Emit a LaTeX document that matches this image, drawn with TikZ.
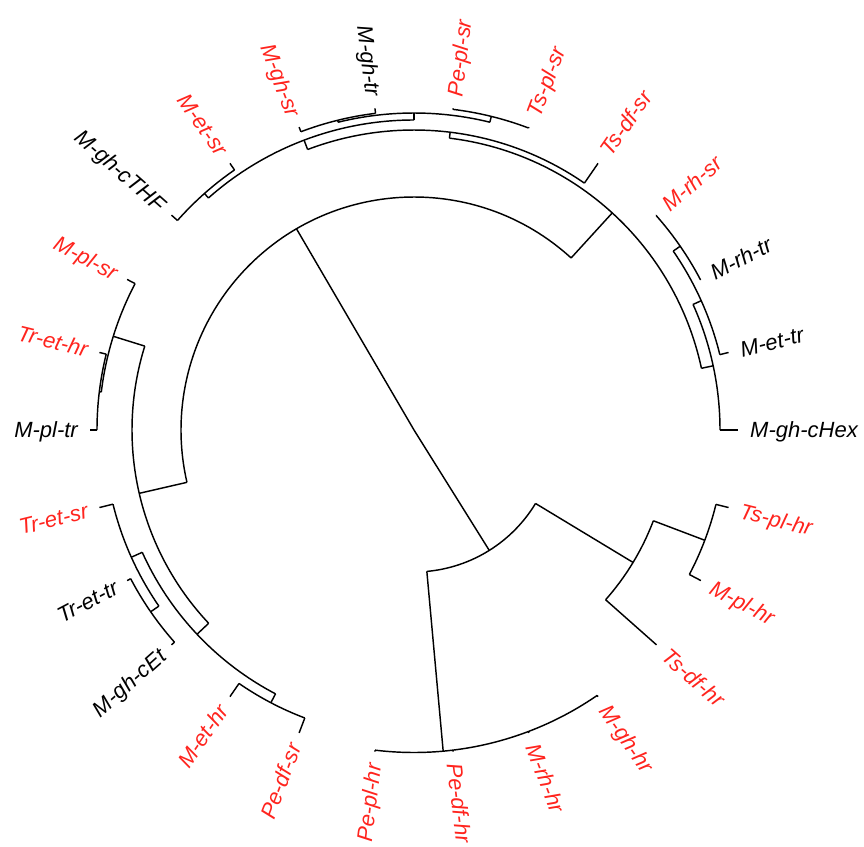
\documentclass[tikz,border=0pt]{standalone}
\usepackage{fontspec}
\setmainfont{Liberation Sans}
\definecolor{lblred}{RGB}{255,36,30}
\begin{document}
\begin{tikzpicture}[
  br/.style={line width=1.45pt, line cap=butt},
  lbl/.style={font=\fontsize{22}{26}\selectfont\itshape, inner sep=0pt, text height=15.75pt, text depth=0pt},
]
\useasboundingbox (-414pt,-416pt) rectangle (450pt,430pt);
\coordinate (root) at (0,0);
% internal nodes: name / angle / radius / parent radius
\foreach \n/\a/\r/\p in {
  L/120.288/233/0, D/302.019/142/0,
  A/47.596/294/233, B/192.981/282/233,
  N1/12.115/306/294, A2/83.077/300/294,
  R1/24.231/315/306, R2/34.615/323.5/315,
  G2/110.769/310/300, G1/90/317/310, GG/103.846/319/317, TP/76.154/323/317,
  MM/131.538/316/310,
  X/162.692/315/282, XX/173.077/317/315,
  Y/223.269/298/282, P/204.231/310/298, PP/214.615/320/310, Q/242.308/308/298,
  T/328.846/256/142, TT/339.231/311/256,
  H1/275.192/322.5/142, H2/287.308/322.5/322.5, H3/297.692/322.5/322.5}{
  \coordinate (\n) at (\a:\r pt);
  \coordinate (\n-f) at (\a:\p pt);
  \draw[br] (\n-f) -- (\n);
}
% leaves: index / label / angle / parent radius / colour
\foreach \k/\n/\a/\p/\c in {
  1/M-gh-cHex/0/306/black,
  2/M-et-tr/13.846/315/black,
  3/M-rh-tr/27.692/323.5/black,
  4/M-rh-sr/41.538/323.5/lblred,
  5/Ts-df-sr/55.385/300/lblred,
  6/Ts-pl-sr/69.231/323/lblred,
  7/Pe-pl-sr/83.077/323/lblred,
  8/M-gh-tr/96.923/319/black,
  9/M-gh-sr/110.769/319/lblred,
  10/M-et-sr/124.615/316/lblred,
  11/M-gh-cTHF/138.462/316/black,
  12/M-pl-sr/152.308/315/lblred,
  13/Tr-et-hr/166.154/317/lblred,
  14/M-pl-tr/180/317/black,
  15/Tr-et-sr/193.846/310/lblred,
  16/Tr-et-tr/207.692/320/black,
  17/M-gh-cEt/221.538/320/black,
  18/M-et-hr/235.385/308/lblred,
  19/Pe-df-sr/249.231/308/lblred,
  20/Pe-pl-hr/263.077/322.5/lblred,
  21/Pe-df-hr/276.923/322.5/lblred,
  22/M-rh-hr/290.769/322.5/lblred,
  23/M-gh-hr/304.615/322.5/lblred,
  24/Ts-df-hr/318.462/256/lblred,
  25/M-pl-hr/332.308/311/lblred,
  26/Ts-pl-hr/346.154/311/lblred}{
  \coordinate (t\k) at (\a:324pt);
  \coordinate (t\k-f) at (\a:\p pt);
  \draw[br] (t\k-f) -- (t\k);
  \pgfmathtruncatemacro\flip{((\a>90)&&(\a<270)) ? 1 : 0}
  \ifnum\flip=1
    \node[lbl, text=\c, anchor=east, rotate=\a-180] (lab\k) at (\a:336pt) {\n};
  \else
    \node[lbl, text=\c, anchor=west, rotate=\a] (lab\k) at (\a:336pt) {\n};
  \fi
}
% arcs of the internal nodes: start (foot of first child) / start angle / end angle / radius
\foreach \s/\sa/\ea/\r in {
  A-f/47.596/192.981/233,
  H1-f/275.192/328.846/142,
  N1-f/12.115/83.077/294,
  X-f/162.692/223.269/282,
  t1-f/0/24.231/306,
  t5-f/55.385/110.769/300,
  t2-f/13.846/34.615/315,
  t3-f/27.692/41.538/323.5,
  G1-f/90/131.538/310,
  TP-f/76.154/103.846/317,
  t8-f/96.923/110.769/319,
  t6-f/69.231/83.077/323,
  t10-f/124.615/138.462/316,
  t12-f/152.308/173.077/315,
  t13-f/166.154/180/317,
  P-f/204.231/242.308/298,
  t15-f/193.846/214.615/310,
  t16-f/207.692/221.538/320,
  t18-f/235.385/249.231/308,
  t24-f/318.462/339.231/256,
  t25-f/332.308/346.154/311,
  t20-f/263.077/304.615/322.5}{
  \draw[br] (\s) arc[start angle=\sa, end angle=\ea, radius=\r pt];
}
\end{tikzpicture}
\end{document}
